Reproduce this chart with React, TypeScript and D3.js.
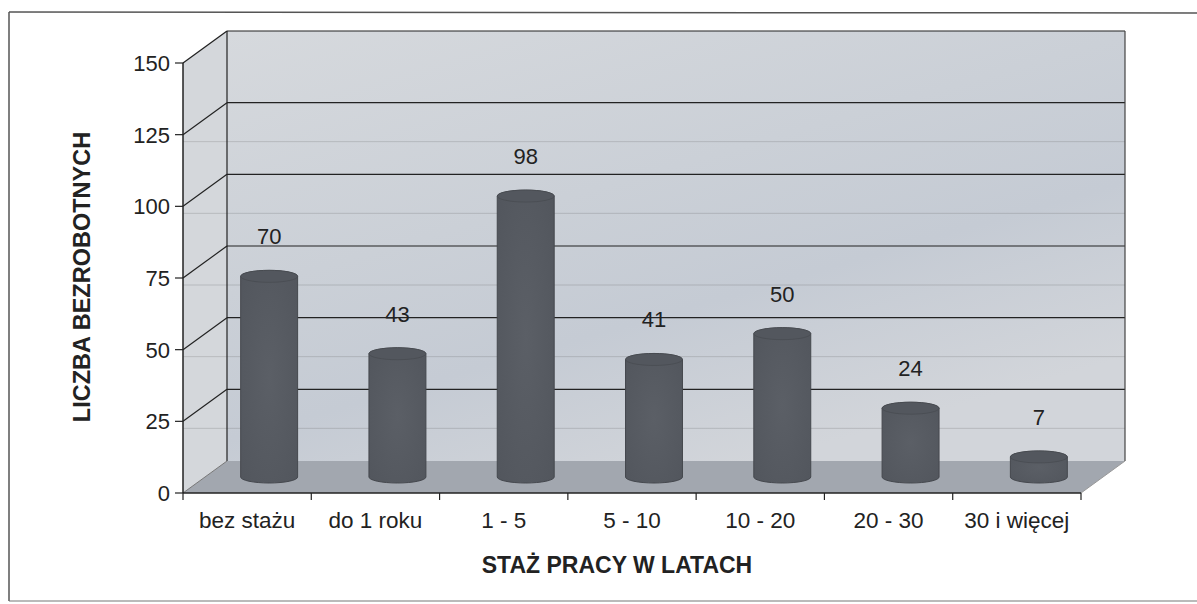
import React from "react";
import * as d3 from "d3";

const categories = ["bez stażu", "do 1 roku", "1 - 5", "5 - 10", "10 - 20", "20 - 30", "30 i więcej"];
const values = [70, 43, 98, 41, 50, 24, 7];
const yTicks = [0, 25, 50, 75, 100, 125, 150];
const xTitle = "STAŻ PRACY W LATACH";
const yTitle = "LICZBA BEZROBOTNYCH";

const W = 1197;
const H = 604;
const FONT = "'Liberation Sans', Arial, sans-serif";

export default function App() {
  const x = d3.scaleBand<string>().domain(categories).range([183, 1081]).padding(0);
  const y = d3.scaleLinear().domain([0, 150]).range([493, 63]);
  const dx = 44;
  const dy = -32;
  const bw = x.bandwidth();
  const rx = bw * 0.222;
  const ry = 6;
  const x0 = x.range()[0];
  const x1 = x.range()[1];
  const yBase = y(0);
  const yTop = y(150);

  const sideWall = `M${x0},${yTop} L${x0 + dx},${yTop + dy} L${x0 + dx},${yBase + dy} L${x0},${yBase} Z`;
  const backWall = `M${x0 + dx},${yTop + dy} L${x1 + dx},${yTop + dy} L${x1 + dx},${yBase + dy} L${x0 + dx},${yBase + dy} Z`;
  const floor = `M${x0},${yBase} L${x1},${yBase} L${x1 + dx},${yBase + dy} L${x0 + dx},${yBase + dy} Z`;

  const cyl = (c: string, v: number) => {
    const cx = (x(c) as number) + bw / 2 + dx / 2;
    const tY = y(v) + dy / 2;
    const bY = y(0) + dy / 2;
    const l = cx - rx;
    const r = cx + rx;
    return {
      cx,
      tY,
      body: `M${l},${tY} L${l},${bY} A${rx},${ry} 0 0 0 ${r},${bY} L${r},${tY} A${rx},${ry} 0 0 0 ${l},${tY} Z`,
    };
  };

  return (
    <svg width={W} height={H} style={{ position: "absolute", left: 0, top: 0, background: "#ffffff" }}>
      <defs>
        <linearGradient id="backGrad" x1="0" y1="0" x2="0.6" y2="1">
          <stop offset="0" stopColor="#d6d9dd" />
          <stop offset="0.45" stopColor="#cbd0d7" />
          <stop offset="0.7" stopColor="#c5cbd4" />
          <stop offset="1" stopColor="#d2d5da" />
        </linearGradient>
        <radialGradient id="cylGrad" cx="0.5" cy="0.5" r="0.7">
          <stop offset="0" stopColor="#5b5f66" />
          <stop offset="1" stopColor="#52565d" />
        </radialGradient>
      </defs>

      {/* page frame */}
      <line x1={9} y1={12} x2={W} y2={13} stroke="#555" strokeWidth={1.5} />
      <line x1={9} y1={12} x2={9} y2={601} stroke="#555" strokeWidth={1.5} />
      <line x1={9} y1={601} x2={W} y2={601} stroke="#777" strokeWidth={1.2} />

      {/* walls */}
      <path d={sideWall} fill="#d4d7db" />
      <path d={backWall} fill="url(#backGrad)" />
      <path d={floor} fill="#a2a7af" />

      {/* faint ghost lines */}
      {yTicks.slice(1, -1).map((t) => (
        <line key={"g" + t} x1={x0} x2={x1 + dx} y1={y(t) + 7} y2={y(t) + 7} stroke="#555" strokeOpacity={0.22} strokeWidth={1} />
      ))}

      {/* gridlines on back wall and side wall */}
      {yTicks.slice(1).map((t) => (
        <g key={"grid" + t}>
          <line x1={x0 + dx} x2={x1 + dx} y1={y(t) + dy} y2={y(t) + dy} stroke="#222" strokeWidth={1.2} />
          <line x1={x0} x2={x0 + dx} y1={y(t)} y2={y(t) + dy} stroke="#222" strokeWidth={1.2} />
        </g>
      ))}
      {/* wall edges */}
      <line x1={x0 + dx} x2={x0 + dx} y1={yTop + dy} y2={yBase + dy} stroke="#222" strokeWidth={1.2} />
      <line x1={x1 + dx} x2={x1 + dx} y1={yTop + dy} y2={yBase + dy} stroke="#444" strokeWidth={1.2} />
      <line x1={x0} x2={x0 + dx} y1={yBase} y2={yBase + dy} stroke="#777" strokeWidth={1} />

      {/* cylinders */}
      {categories.map((c, i) => {
        const g = cyl(c, values[i]);
        return (
          <g key={"cyl" + c}>
            <path d={g.body} fill="url(#cylGrad)" stroke="#45484e" strokeWidth={1} />
            <ellipse cx={g.cx} cy={g.tY} rx={rx} ry={ry} fill="#53575e" stroke="#45484e" strokeWidth={0.6} />
            <text x={g.cx} y={g.tY - ry - 26} textAnchor="middle" fontFamily={FONT} fontSize={22} fill="#222">
              {values[i]}
            </text>
          </g>
        );
      })}

      {/* front axes */}
      <line x1={x0} x2={x0} y1={yTop} y2={yBase} stroke="#222" strokeWidth={1.5} />
      <line x1={x0} x2={x1} y1={yBase} y2={yBase} stroke="#222" strokeWidth={1.5} />
      <line x1={x1} x2={x1 + dx} y1={yBase} y2={yBase + dy} stroke="#999" strokeWidth={1} />

      {yTicks.map((t) => (
        <g key={"yt" + t}>
          <line x1={x0 - 8} x2={x0} y1={y(t)} y2={y(t)} stroke="#222" strokeWidth={1.2} />
          <text x={x0 - 13} y={y(t)} dy="0.36em" textAnchor="end" fontFamily={FONT} fontSize={22} fill="#222">
            {t}
          </text>
        </g>
      ))}

      {categories.map((c) => (
        <line key={"xt" + c} x1={x(c) as number} x2={x(c) as number} y1={yBase} y2={yBase + 7} stroke="#222" strokeWidth={1.2} />
      ))}
      <line x1={x1} x2={x1} y1={yBase} y2={yBase + 7} stroke="#222" strokeWidth={1.2} />

      {categories.map((c) => (
        <text key={"xl" + c} x={(x(c) as number) + bw / 2} y={528} textAnchor="middle" fontFamily={FONT} fontSize={22.5} fill="#222">
          {c}
        </text>
      ))}

      <text x={617} y={573} textAnchor="middle" fontFamily={FONT} fontSize={23} fontWeight="bold" fill="#222">
        {xTitle}
      </text>
      <text transform={`translate(90,277) rotate(-90)`} textAnchor="middle" fontFamily={FONT} fontSize={23.5} fontWeight="bold" fill="#222">
        {yTitle}
      </text>
    </svg>
  );
}
